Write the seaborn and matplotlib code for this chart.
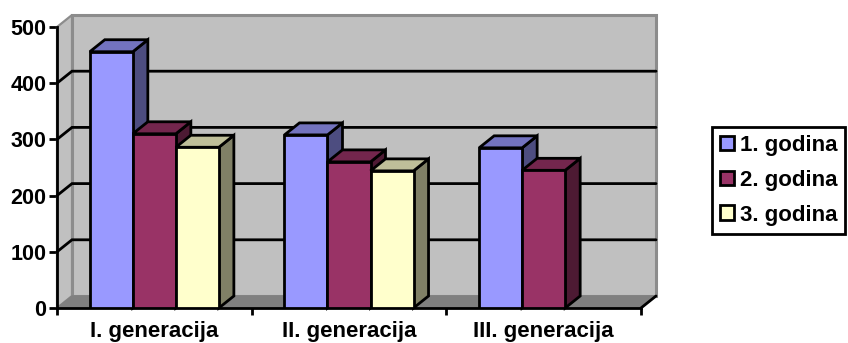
import matplotlib
matplotlib.use("Agg")
import matplotlib.pyplot as plt
from matplotlib.colors import to_rgb
from matplotlib.patches import Patch, Polygon
import numpy as np
import pandas as pd
import seaborn as sns

generations = ["I. generacija", "II. generacija", "III. generacija"]
years = ["1. godina", "2. godina", "3. godina"]
year_1 = [456, 308, 285]
year_2 = [310, 260, 245]
year_3 = [286, 244, np.nan]
y_ticks = [0, 100, 200, 300, 400, 500]
palette = ["#9999FF", "#993366", "#FFFFCC"]

W, H = 848, 343
AX_L, AX_R, AX_B, AX_T = 57, 641, 308, 27
DEPTH_X, DEPTH_Y = 15, 12
WALL, FLOOR, WALL_EDGE = "#C0C0C0", "#808080", "#8C8C8C"

sns.set_theme(style="white")
plt.rcParams["font.family"] = ["Liberation Sans", "DejaVu Sans"]
plt.rcParams["font.weight"] = "bold"
plt.rcParams["text.color"] = "black"

frame = pd.DataFrame({
    "generation": np.repeat(generations, 3),
    "year": years * 3,
    "value": [v for trio in zip(year_1, year_2, year_3) for v in trio],
})

fig = plt.figure(figsize=(W / 100, H / 100), dpi=100, facecolor="white")
ax = fig.add_axes([AX_L / W, 1 - AX_B / H, (AX_R - AX_L) / W, (AX_B - AX_T) / H])

sns.barplot(
    data=frame, x="generation", y="value", hue="year", hue_order=years,
    order=generations, palette=palette, width=0.663, gap=0, saturation=1,
    edgecolor="black", linewidth=2, legend=False, ax=ax,
)
ax.set_xlim(-0.5, 2.5)
ax.set_ylim(0, 500)

# Depth of the extruded look, expressed in data units
dx = DEPTH_X * 3 / (AX_R - AX_L)
dy = DEPTH_Y * 500 / (AX_B - AX_T)
x0, x1 = -0.5, 2.5


def face(points, color, edge="black", lw=2, z=1):
    ax.add_patch(Polygon(points, closed=True, facecolor=color, edgecolor=edge,
                         linewidth=lw, zorder=z, clip_on=False, joinstyle="miter"))


# Back wall, side wall and floor
face([(x0 + dx, dy), (x1 + dx, dy), (x1 + dx, 500 + dy), (x0 + dx, 500 + dy)],
     WALL, WALL_EDGE, 2.2, 1)
face([(x0, 0), (x0 + dx, dy), (x0 + dx, 500 + dy), (x0, 500)], WALL, WALL_EDGE, 1.6, 1)
face([(x0, 0), (x1, 0), (x1 + dx, dy), (x0 + dx, dy)], FLOOR, FLOOR, 1, 1.1)
ax.plot([x1, x1 + dx], [0, dy], color="black", lw=2, zorder=1.2, clip_on=False)

# Grid lines run across the back wall and fold down the side wall
for tick in y_ticks[1:-1]:
    ax.plot([x0, x0 + dx, x1 + dx], [tick, tick + dy, tick + dy],
            color="black", lw=2, zorder=1.5, clip_on=False, solid_joinstyle="miter")


def shade(color, factor):
    return tuple(c * factor for c in to_rgb(color))


# Extrude each bar; painting left to right lets nearer faces cover farther ones
bars = []
for series, (container, color) in enumerate(zip(ax.containers, palette)):
    for bar in container:
        if np.isfinite(bar.get_height()) and bar.get_height() > 0:
            bars.append((bar.get_x(), bar, color))

for order, (_, bar, color) in enumerate(sorted(bars, key=lambda item: item[0])):
    z = 2 + order * 0.1
    left, right, top = bar.get_x(), bar.get_x() + bar.get_width(), bar.get_height()
    face([(right, 0), (right + dx, dy), (right + dx, top + dy), (right, top)],
         shade(color, 0.5), z=z)
    face([(left, top), (left + dx, top + dy), (right + dx, top + dy), (right, top)],
         shade(color, 0.75), z=z + 0.01)
    bar.set_zorder(z + 0.02)
    bar.set_joinstyle("miter")

ax.set_xlabel("")
ax.set_ylabel("")
ax.set_yticks(y_ticks)
ax.set_xticks(range(len(generations)))
ax.set_xticklabels(generations)
ax.set_xticks([-0.5, 0.5, 1.5, 2.5], minor=True)
ax.tick_params(axis="x", which="major", length=0, pad=9.5, labelsize=16, labelcolor="black")
ax.tick_params(axis="x", which="minor", length=5, width=2, color="black", bottom=True)
ax.tick_params(axis="y", length=6, width=2, color="black", left=True, pad=1.5,
               labelsize=15.5, labelcolor="black")
for label in ax.get_xticklabels() + ax.get_yticklabels():
    label.set_fontweight("bold")

for side in ("top", "right"):
    ax.spines[side].set_visible(False)
for side in ("left", "bottom"):
    ax.spines[side].set_color("black")
    ax.spines[side].set_linewidth(2)
    ax.spines[side].set_zorder(1.8)

handles = [Patch(facecolor=c, edgecolor="black", linewidth=2) for c in palette]
legend = fig.legend(
    handles, years, loc="upper left", bbox_to_anchor=(712 / W, 1 - 127 / H),
    bbox_transform=fig.transFigure, frameon=True, fancybox=False, framealpha=1,
    edgecolor="black", facecolor="white", labelcolor="black",
    prop={"weight": "bold", "size": 16},
    handlelength=0.63, handleheight=0.63, handletextpad=0.25, labelspacing=0.62,
    borderpad=0.36, borderaxespad=0,
)
legend.get_frame().set_linewidth(2)

fig.savefig("out.png", dpi=100)
